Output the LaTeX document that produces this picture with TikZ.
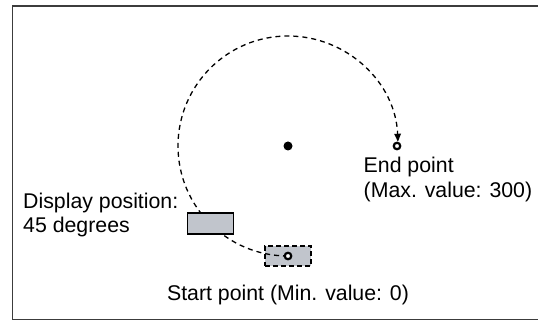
\documentclass[tikz,border=0pt]{standalone}
\usepackage{fontspec}
\setmainfont{Liberation Sans}
\usetikzlibrary{arrows.meta}
\definecolor{boxgray}{RGB}{193,197,204}
\definecolor{framegray}{RGB}{60,60,60}
\begin{document}
\begin{tikzpicture}[x=1pt,y=1pt,
  lbl/.style={font=\fontsize{21.3}{26}\selectfont, inner sep=0pt, anchor=base west},
  arcline/.style={line width=1.3pt, dash pattern=on 5pt off 4pt},
  startbox/.style={draw, line width=1.5pt, dash pattern=on 5pt off 3pt, fill=boxgray,
    minimum width=46pt, minimum height=20pt, inner sep=0pt},
  dispbox/.style={draw, line width=1.5pt, fill=boxgray,
    minimum width=46pt, minimum height=21pt, inner sep=0pt},
  ring/.style={circle, draw, line width=2.2pt, fill=white, minimum size=6.5pt, inner sep=0pt},
  dot/.style={circle, fill=black, minimum size=9pt, inner sep=0pt}]
\useasboundingbox (0,0) rectangle (538,-320);
\draw[framegray, line width=1.5pt] (12.5,-6) rectangle (545,-319.5);
\node[startbox] (sbox) at (288,-256) {};
\coordinate (sc) at (288,-256);
\draw[arcline, -{Triangle[length=8pt,width=6.5pt]}] (sc) arc[start angle=270, end angle=2.2, radius=110pt];
\node[dispbox] (dbox) at (210.4,-223.5) {};
\node[ring] (sring) at (sc) {};
\node[ring] (ering) at (397,-146) {};
\node[dot] (ctr) at (288,-146) {};
\node[lbl] (endA) at (363.5,-172.5) {End point};
\node[lbl] (endB) at (363.5,-197.5) {(Max. value: 300)};
\node[lbl] (dispA) at (23,-208.5) {Display position:};
\node[lbl] (dispB) at (23,-232.5) {45 degrees};
\node[lbl, anchor=base] (startT) at (288,-301) {Start point (Min. value: 0)};
\end{tikzpicture}
\end{document}
